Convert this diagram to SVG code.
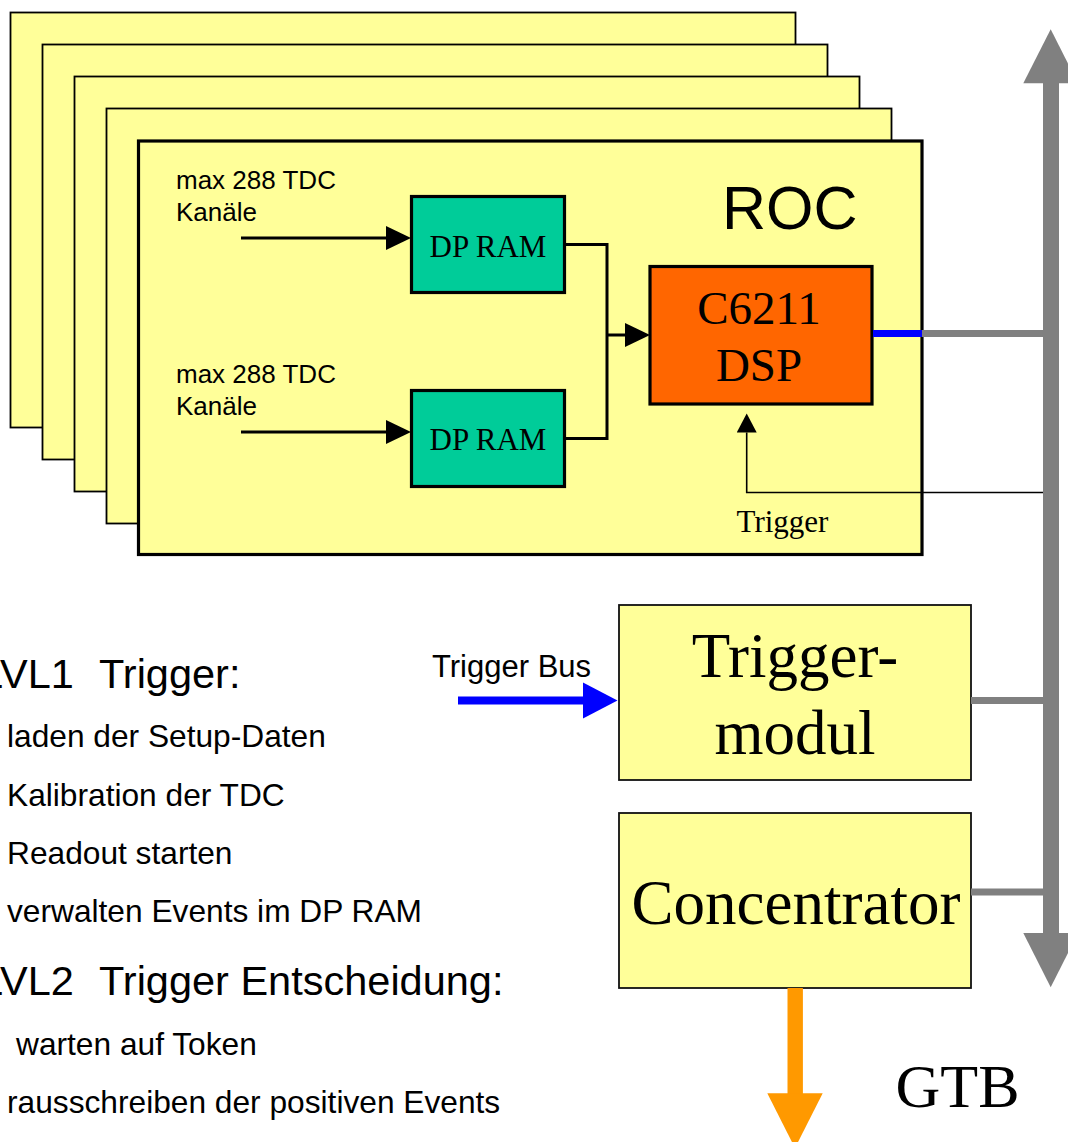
<svg xmlns="http://www.w3.org/2000/svg" width="1068" height="1142" viewBox="0 0 1068 1142">
  <style>
    .card { fill: #FFFF99; stroke: #000; stroke-width: 1.8; }
    .card-front { fill: #FFFF99; stroke: #000; stroke-width: 3.2; }
    .ram { fill: #00CC99; stroke: #000; stroke-width: 3.2; }
    .dsp { fill: #FF6600; stroke: #000; stroke-width: 3.2; }
    .module { fill: #FFFF99; stroke: #111; stroke-width: 1.8; }
    .wire { fill: none; stroke: #000; stroke-width: 3; }
    .thin { fill: none; stroke: #000; stroke-width: 1.6; }
    .busline { fill: none; stroke: #808080; stroke-width: 7; }
    .sans { font-family: "Liberation Sans", Arial, sans-serif; fill: #000; }
    .serif { font-family: "Liberation Serif", "Times New Roman", serif; fill: #000; }
    .mid { text-anchor: middle; }
  </style>
  <defs>
    <marker id="head" markerUnits="userSpaceOnUse" markerWidth="25" markerHeight="24" refX="0" refY="12" orient="auto">
      <path d="M0,0 L25,12 L0,24 z" fill="#000"/>
    </marker>
    <marker id="head-small" markerUnits="userSpaceOnUse" markerWidth="20" markerHeight="20" refX="0" refY="10" orient="auto">
      <path d="M0,0 L19,10 L0,20 z" fill="#000"/>
    </marker>
  </defs>

  <!-- stacked readout controller cards -->
  <g id="roc-stack">
    <rect class="card" x="10.5" y="12.5" width="785" height="415"/>
    <rect class="card" x="42.5" y="44.5" width="785" height="415"/>
    <rect class="card" x="74.5" y="76.5" width="785" height="415"/>
    <rect class="card" x="106.5" y="108.5" width="785" height="415"/>
  </g>

  <g id="roc">
    <rect class="card-front" x="138.5" y="141" width="783.5" height="413.5"/>
    <text class="sans" x="722" y="229" font-size="61">ROC</text>
    <text class="sans" font-size="26" x="176" y="189">max 288 TDC</text>
    <text class="sans" font-size="26" x="176" y="221">Kanäle</text>
    <text class="sans" font-size="26" x="176" y="383">max 288 TDC</text>
    <text class="sans" font-size="26" x="176" y="415">Kanäle</text>
    <text class="serif mid" font-size="31" x="782.5" y="532">Trigger</text>
  </g>

  <g id="dpram-1">
    <rect class="ram" x="411.5" y="196.5" width="153" height="96"/>
    <text class="serif mid" font-size="31" x="488" y="257">DP RAM</text>
  </g>

  <g id="dpram-2">
    <rect class="ram" x="411.5" y="390.5" width="153" height="96"/>
    <text class="serif mid" font-size="31" x="488" y="450">DP RAM</text>
  </g>

  <g id="dsp">
    <rect class="dsp" x="650" y="266.5" width="222" height="137.5"/>
    <text class="serif mid" font-size="47" x="759" y="324">C6211</text>
    <text class="serif mid" font-size="47" x="759" y="381">DSP</text>
  </g>

  <g id="triggermodul">
    <rect class="module" x="619" y="605" width="352" height="175"/>
    <text class="serif mid" font-size="63" x="795" y="677">Trigger-</text>
    <text class="serif mid" font-size="63" x="795" y="754">modul</text>
  </g>

  <g id="concentrator">
    <rect class="module" x="619" y="813" width="352" height="175"/>
    <text class="serif mid" font-size="63" x="796" y="924">Concentrator</text>
  </g>

  <g id="bus">
    <rect x="1043" y="82" width="16" height="852" fill="#808080"/>
    <polygon points="1050.7,29.3 1078,83.3 1023.3,83.3" fill="#808080"/>
    <polygon points="1023.3,933 1078,933 1050.7,987.3" fill="#808080"/>
  </g>

  <g id="gtb-label">
    <text class="serif mid" font-size="62" x="957.5" y="1107">GTB</text>
  </g>

  <g id="notes">
    <text class="sans" font-size="41.5" x="-20" y="688">LVL1 <tspan x="99">Trigger:</tspan></text>
    <text class="sans" font-size="31.7" x="7" y="747">laden der Setup-Daten</text>
    <text class="sans" font-size="31.7" x="7" y="805.5">Kalibration der TDC</text>
    <text class="sans" font-size="31.7" x="7" y="863.5">Readout starten</text>
    <text class="sans" font-size="31.7" x="7" y="921.5">verwalten Events im DP RAM</text>
    <text class="sans" font-size="41.5" x="-20" y="995">LVL2 <tspan x="99">Trigger Entscheidung:</tspan></text>
    <text class="sans" font-size="31.7" x="16" y="1055">warten auf Token</text>
    <text class="sans" font-size="31.7" x="7" y="1113">rausschreiben der positiven Events</text>
  </g>

  <g id="connectors">
    <!-- TDC inputs into the dual-port RAMs -->
    <line class="wire" x1="241" y1="238" x2="386" y2="238" marker-end="url(#head)"/>
    <line class="wire" x1="241" y1="432" x2="386" y2="432" marker-end="url(#head)"/>
    <!-- RAM outputs merged into the DSP -->
    <polyline class="wire" points="565,244.5 607,244.5 607,438.5 565,438.5"/>
    <line class="wire" x1="607" y1="335" x2="625" y2="335" marker-end="url(#head)"/>
    <!-- trigger line from the bus into the DSP -->
    <polyline class="thin" points="1043,492.5 746.7,492.5 746.7,432.5" marker-end="url(#head-small)"/>
    <!-- DSP to bus -->
    <line x1="873" y1="333.5" x2="922" y2="333.5" stroke="#0000FF" stroke-width="7"/>
    <line class="busline" x1="922" y1="333.5" x2="1044" y2="333.5"/>
    <line class="busline" x1="971" y1="700.5" x2="1044" y2="700.5"/>
    <line class="busline" x1="971" y1="892" x2="1044" y2="892"/>
    <!-- trigger bus input -->
    <line x1="458" y1="700.5" x2="584" y2="700.5" stroke="#0000FF" stroke-width="8"/>
    <polygon points="583,682.5 617.5,700.5 583,718.5" fill="#0000FF"/>
    <!-- concentrator output to GTB -->
    <rect x="787.5" y="988" width="15.4" height="106" fill="#FF9900"/>
    <polygon points="767.3,1093.3 822.7,1093.3 795,1148" fill="#FF9900"/>
  </g>

  <g id="labels">
    <text class="sans" font-size="31" x="432" y="677">Trigger Bus</text>
  </g>
</svg>
